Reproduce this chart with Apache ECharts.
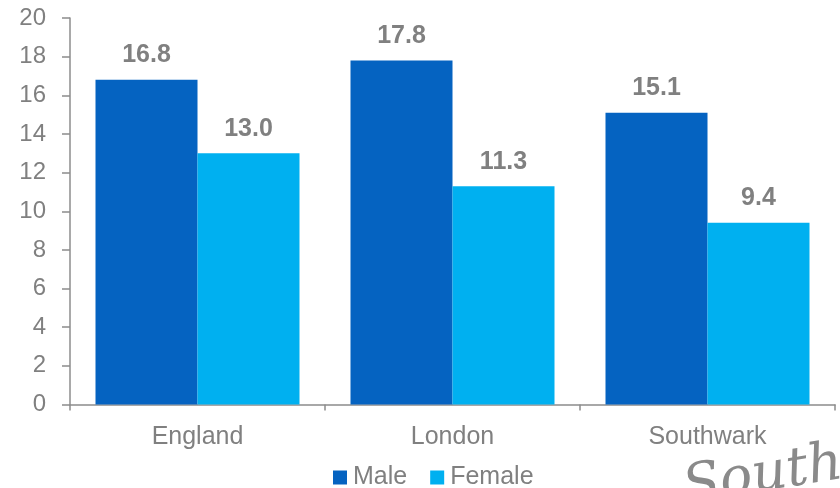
<!DOCTYPE html>
<html>
<head>
<meta charset="utf-8">
<script src="https://cdn.jsdelivr.net/npm/echarts@6/dist/echarts.min.js"></script>
<style>
  html, body { margin: 0; padding: 0; background: #ffffff; }
  #chart { width: 840px; height: 488px; }
</style>
</head>
<body>
<div id="chart"></div>
<script>
// Areas compared
const categories = ['England', 'London', 'Southwark'];
// Values by sex
const maleValues = [16.8, 17.8, 15.1];
const femaleValues = [13.0, 11.3, 9.4];
// Value axis labels
const yTicks = [0, 2, 4, 6, 8, 10, 12, 14, 16, 18, 20];

const grey = '#808080';
const axisGrey = '#8c8c8c';
const font = '"Liberation Sans", Arial, sans-serif';

const chart = echarts.init(document.getElementById('chart'), null, { renderer: 'canvas' });

const labelStyle = {
  show: true,
  position: 'top',
  distance: 12,
  color: grey,
  fontFamily: font,
  fontSize: 25,
  fontWeight: 'bold',
  formatter: p => p.value.toFixed(1)
};

chart.setOption({
  animation: false,
  backgroundColor: '#ffffff',
  grid: { left: 70, right: 5, top: 18, bottom: 83.5, containLabel: false },
  legend: {
    data: ['Male', 'Female'],
    top: 465,
    left: 333,
    padding: 0,
    itemWidth: 14,
    itemHeight: 14,
    itemGap: 23,
    icon: 'rect',
    textStyle: { color: grey, fontFamily: font, fontSize: 25, padding: [0, 0, 0, 1] }
  },
  xAxis: {
    type: 'category',
    data: categories,
    axisLine: { show: true, lineStyle: { color: axisGrey, width: 1.5 } },
    axisTick: { show: true, length: 6, alignWithLabel: false, lineStyle: { color: axisGrey, width: 1.5 } },
    axisLabel: { color: grey, fontFamily: font, fontSize: 25, margin: 20 }
  },
  yAxis: {
    type: 'value',
    min: yTicks[0],
    max: yTicks[yTicks.length - 1],
    interval: 2,
    axisLine: { show: true, lineStyle: { color: axisGrey, width: 1.5 } },
    axisTick: { show: true, inside: false, length: 8, lineStyle: { color: axisGrey, width: 1.5 } },
    splitLine: { show: false },
    axisLabel: { color: grey, fontFamily: font, fontSize: 24, margin: 24 }
  },
  series: [
    {
      name: 'Male',
      type: 'bar',
      data: maleValues,
      barCategoryGap: '20%',
      barGap: '0%',
      itemStyle: { color: '#0563c1' },
      label: labelStyle
    },
    {
      name: 'Female',
      type: 'bar',
      data: femaleValues,
      barCategoryGap: '20%',
      barGap: '0%',
      itemStyle: { color: '#00b0f0' },
      label: labelStyle
    }
  ],
  graphic: [
    {
      type: 'text',
      x: 688,
      y: 516,
      rotation: 0.16,
      style: {
        text: 'Southwark',
        fill: '#8a8a8a',
        font: 'italic 54px "DejaVu Serif", serif',
        textVerticalAlign: 'bottom'
      }
    }
  ]
});
</script>
</body>
</html>
